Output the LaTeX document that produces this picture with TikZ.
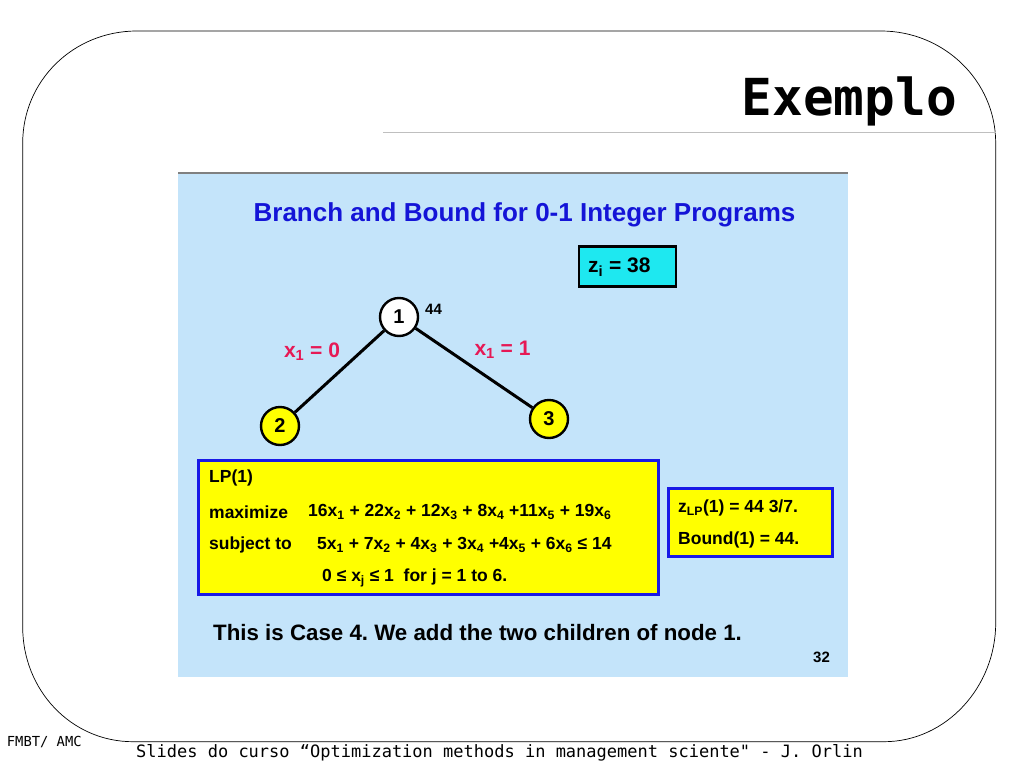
\documentclass[tikz,border=0pt]{standalone}
\usepackage{fontspec}
\setmainfont{Liberation Sans}
\newfontfamily\monofont{DejaVu Sans Mono}
\usetikzlibrary{positioning}
\definecolor{slidebg}{RGB}{196,228,250}
\definecolor{titleblue}{RGB}{20,20,215}
\definecolor{branchred}{RGB}{230,25,85}
\definecolor{boxblue}{RGB}{25,25,230}
\definecolor{incyan}{RGB}{30,232,240}
\definecolor{nodeyellow}{RGB}{255,255,0}
\newcommand{\sz}[1]{\fontsize{#1}{1.2\dimexpr #1pt\relax}\selectfont}
\frenchspacing

\begin{document}
\begin{tikzpicture}[x=1pt, y=-1pt,
% page frame
frame/.style={draw, line width=0.7pt},
rule/.style={draw, gray!50, line width=1pt},
% slide
slide/.style={fill=slidebg},
slidetop/.style={draw, gray, line width=1.5pt},
% tree
bbnode/.style={circle, draw, line width=2.4pt, minimum size=38pt, inner sep=0, font=\bfseries\sz{20}},
live/.style={bbnode, fill=white},
child/.style={bbnode, fill=nodeyellow},
branch/.style={line width=3pt},
% annotations
annot/.style={font=\bfseries\sz{17.5}, anchor=west, inner sep=0},
brlabel/.style={font=\bfseries\sz{21}, text=branchred, inner sep=0},
% boxes
lpbox/.style={draw=boxblue, fill=nodeyellow, line width=3pt, rectangle, inner sep=0},
incbox/.style={draw, fill=incyan, line width=2.6pt, rectangle, inner sep=0}
]

\useasboundingbox (0,0) rectangle (1024,768);
\fill[white] (0,0) rectangle (1024,768);

% FRAME AND HEADING
\path[frame] (22.7,143) .. controls (22.7,81) and (73,31) .. (137,31) -- (881,31)
  .. controls (944,31) and (995.7,81) .. (995.7,143) -- (995.7,623)
  .. controls (995.7,687) and (946,741.7) .. (884,741.7) -- (133,741.7)
  .. controls (71,741.7) and (22.7,690) .. (22.7,627) -- cycle;
\node[anchor=base east, inner sep=0, font=\monofont\bfseries\sz{51}] (heading) at (957,115) {Exemplo};
\path[rule] (383,132) coordinate (ruleL) -- (995.7,132) coordinate (ruleR);

% SLIDE
\path[slide] (178,173) rectangle (848,677);
\path[slidetop] (178,173) -- (848,173);
\node[font=\bfseries\sz{26}, text=titleblue, inner sep=0] (title) at (524.5,215) {Branch and Bound for 0-1 Integer Programs};

% incumbent
\node[incbox, minimum width=97pt, minimum height=40pt] (inc) at (627.5,266.7) {};
\node[annot, font=\bfseries\sz{21}] (zi) at (588,267) {z\textsubscript{i} = 38};

% TREE
\node[live] (n1) at (399,317) {1};
\node[child] (n2) at (280,426) {2};
\node[child] (n3) at (549,419) {3};
\node[font=\bfseries\sz{15}, anchor=west, inner sep=0] (b1) at (425,309) {44};
\draw[branch] (n1) -- (n2);
\draw[branch] (n1) -- (n3);
\path
(312,352) node[brlabel] (e12) {x\textsubscript{1} = 0}
(502.5,350) node[brlabel] (e13) {x\textsubscript{1} = 1}
;

% LP(1)
\node[lpbox, minimum width=460pt, minimum height=134pt] (lp) at (428,527) {};
\path
(209,478) node[annot] (lphead) {LP(1)}
(209,512) node[annot] (maxlab) {maximize}
(308,512) node[annot] (obj) {16x\textsubscript{1} + 22x\textsubscript{2} + 12x\textsubscript{3} + 8x\textsubscript{4} +11x\textsubscript{5} + 19x\textsubscript{6}}
(209,545) node[annot] (stlab) {subject to}
(317,545) node[annot] (con) {5x\textsubscript{1} + 7x\textsubscript{2} + 4x\textsubscript{3} + 3x\textsubscript{4} +4x\textsubscript{5} + 6x\textsubscript{6} ≤ 14}
(322,578) node[annot] (bnds) {0 ≤ x\textsubscript{j} ≤ 1\ \ for j = 1 to 6.}
;

% bound
\node[lpbox, minimum width=164pt, minimum height=68pt] (bd) at (750,522) {};
\path
(678,508) node[annot] (zlp) {z\textsubscript{LP}(1) = 44 3/7.}
(678,540) node[annot] (bound) {Bound(1) = 44.}
;

% remarks
\node[font=\bfseries\sz{22.3}, anchor=west, inner sep=0] (case) at (213,633) {This is Case 4. We add the two children of node 1.};
\node[font=\bfseries\sz{15}, inner sep=0] (pg) at (821.5,657) {32};

% FOOTER
\node[font=\monofont\sz{13.8}, anchor=west, inner sep=0] (inst) at (6.7,742) {FMBT/ AMC};
\node[font=\monofont\sz{17}, inner sep=0] (credit) at (499.5,753) {Slides do curso “Optimization methods in management sciente" - J. Orlin};

\end{tikzpicture}
\end{document}
